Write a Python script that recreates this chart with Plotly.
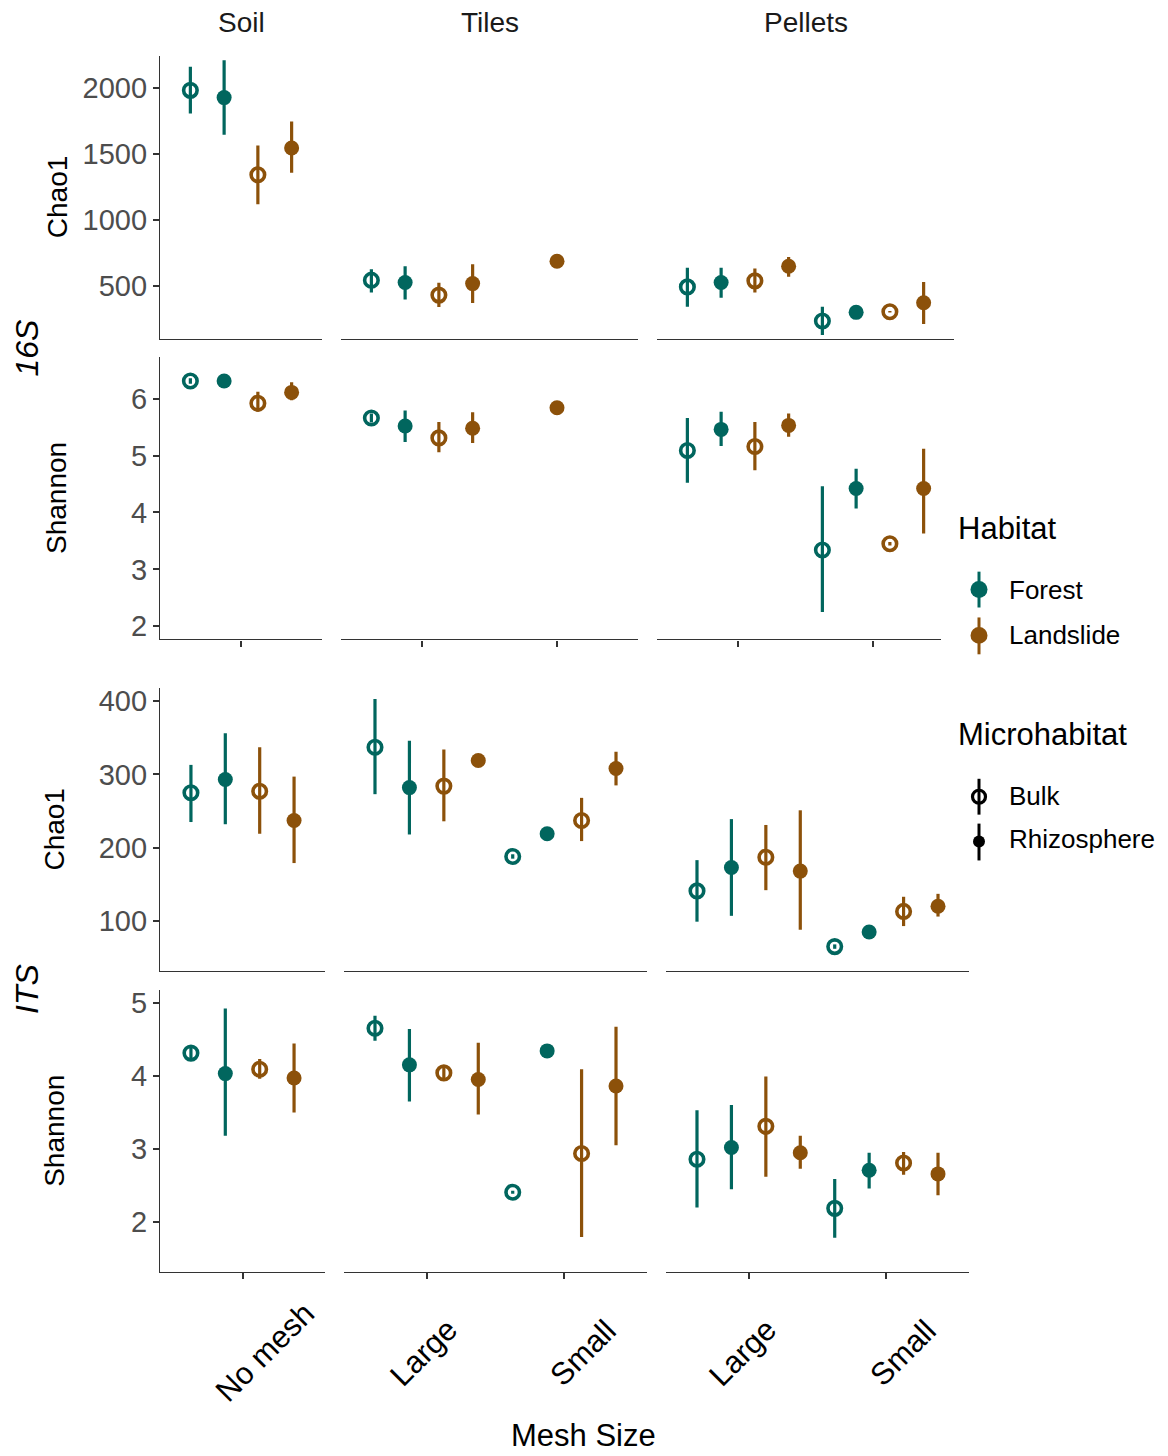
import plotly.graph_objects as go

W, H = 1168, 1456
FONT = "Liberation Sans, Arial, sans-serif"

# ---------------- data ----------------
types = ["Soil", "Tiles", "Pellets"]
type_mesh = {"Soil": ["No mesh"], "Tiles": ["Large", "Small"], "Pellets": ["Large", "Small"]}
cells = [("Soil", "No mesh"), ("Tiles", "Large"), ("Tiles", "Small"),
         ("Pellets", "Large"), ("Pellets", "Small")]
groups = ["FB", "FR", "LB", "LR"]
group_habitat = {"FB": "Forest", "FR": "Forest", "LB": "Landslide", "LR": "Landslide"}
group_micro = {"FB": "Bulk", "FR": "Rhizosphere", "LB": "Bulk", "LR": "Rhizosphere"}
habitat_colors = {"Forest": "#01665E", "Landslide": "#8C510A"}

row_assay = ["16S", "16S", "ITS", "ITS"]
row_metric = ["Chao1", "Shannon", "Chao1", "Shannon"]

# 16S Chao1 (cells order as in `cells`)
chao16_mean = {"FB": [1982, 543, None, 492, 233], "FR": [1927, 525, None, 525, 299],
               "LB": [1342, 430, None, 538, 304], "LR": [1545, 517, 686, 649, 372]}
chao16_lo = {"FB": [1806, 449, None, 341, 128], "FR": [1645, 397, None, 409, 292],
             "LB": [1118, 339, None, 449, 298], "LR": [1357, 369, 680, 568, 211]}
chao16_hi = {"FB": [2161, 626, None, 638, 341], "FR": [2211, 649, None, 638, 306],
             "LB": [1563, 523, None, 631, 310], "LR": [1745, 664, 692, 719, 530]}

# 16S Shannon
shan16_mean = {"FB": [6.31, 5.66, None, 5.09, 3.34], "FR": [6.31, 5.52, None, 5.46, 4.42],
               "LB": [5.92, 5.31, None, 5.16, 3.45], "LR": [6.11, 5.48, 5.84, 5.53, 4.42]}
shan16_lo = {"FB": [6.26, 5.58, None, 4.52, 2.25], "FR": [6.28, 5.24, None, 5.17, 4.07],
             "LB": [5.77, 5.06, None, 4.74, 3.42], "LR": [5.97, 5.22, 5.81, 5.33, 3.63]}
shan16_hi = {"FB": [6.36, 5.74, None, 5.66, 4.46], "FR": [6.34, 5.79, None, 5.77, 4.77],
             "LB": [6.12, 5.59, None, 5.59, 3.48], "LR": [6.29, 5.76, 5.87, 5.74, 5.12]}

# ITS Chao1
chaoITS_mean = {"FB": [275, 337, 188, 141, 65], "FR": [293, 282, 219, 173, 85],
                "LB": [277, 284, 237, 187, 113], "LR": [237, 319, 308, 168, 120]}
chaoITS_lo = {"FB": [235, 273, 185, 99, 62], "FR": [232, 218, 216, 107, 83],
              "LB": [219, 236, 209, 142, 93], "LR": [179, 316, 285, 88, 106]}
chaoITS_hi = {"FB": [313, 403, 191, 183, 68], "FR": [356, 346, 222, 239, 87],
              "LB": [337, 334, 268, 231, 133], "LR": [297, 322, 331, 251, 137]}

# ITS Shannon
shanITS_mean = {"FB": [4.31, 4.65, 2.41, 2.86, 2.19], "FR": [4.03, 4.15, 4.34, 3.02, 2.71],
                "LB": [4.09, 4.04, 2.94, 3.31, 2.81], "LR": [3.97, 3.95, 3.86, 2.95, 2.66]}
shanITS_lo = {"FB": [4.24, 4.48, 2.39, 2.20, 1.79], "FR": [3.18, 3.65, 4.32, 2.45, 2.46],
              "LB": [3.96, 3.93, 1.80, 2.62, 2.65], "LR": [3.50, 3.47, 3.05, 2.73, 2.37]}
shanITS_hi = {"FB": [4.38, 4.82, 2.43, 3.53, 2.59], "FR": [4.92, 4.64, 4.36, 3.60, 2.95],
              "LB": [4.23, 4.14, 4.09, 3.99, 2.96], "LR": [4.44, 4.45, 4.67, 3.18, 2.95]}

row_data = [(chao16_mean, chao16_lo, chao16_hi), (shan16_mean, shan16_lo, shan16_hi),
            (chaoITS_mean, chaoITS_lo, chaoITS_hi), (shanITS_mean, shanITS_lo, shanITS_hi)]

y_ranges = [[100, 2244], [1.77, 6.74], [31.7, 417.7], [1.324, 5.173]]
y_ticks = [[500, 1000, 1500, 2000], [2, 3, 4, 5, 6], [100, 200, 300, 400], [2, 3, 4, 5]]

# ---------------- layout geometry (pixels) ----------------
row_y = [(53, 337), (355, 639), (688, 972), (991, 1274)]
col_x_16 = [(160, 322), (341, 638), (657, 954)]
col_x_its = [(160, 325), (344, 647), (666, 969)]

AXC = "#333333"


def px(x):
    return x / W


def py(y):
    return 1 - y / H


fig = go.Figure()
layout = dict(width=W, height=H, autosize=False, margin=dict(l=0, r=0, t=0, b=0),
              paper_bgcolor="white", plot_bgcolor="white", showlegend=False,
              font=dict(family=FONT, color="black"))

DODGE = 1.0
for r in range(4):
    means, los, his = row_data[r]
    cols = col_x_16 if r < 2 else col_x_its
    for c, t in enumerate(types):
        k = r * 3 + c + 1
        sfx = "" if k == 1 else str(k)
        meshes = type_mesh[t]
        pos = {g: ([], [], [], []) for g in groups}
        for mi, mesh in enumerate(meshes):
            ci = cells.index((t, mesh))
            present = [g for g in groups if means[g][ci] is not None]
            n = len(present)
            for j, g in enumerate(present):
                off = -DODGE / 2 + (j + 0.5) * DODGE / n
                m = means[g][ci]
                pos[g][0].append(mi + 1 + off)
                pos[g][1].append(m)
                pos[g][2].append(his[g][ci] - m)
                pos[g][3].append(m - los[g][ci])
        for g in groups:
            xs, ys, ep, em = pos[g]
            if not xs:
                continue
            col = habitat_colors[group_habitat[g]]
            bulk = group_micro[g] == "Bulk"
            fig.add_trace(go.Scatter(
                x=xs, y=ys, mode="markers", xaxis="x" + sfx, yaxis="y" + sfx,
                name=f"{group_habitat[g]} {group_micro[g]}",
                error_y=dict(type="data", symmetric=False, array=ep, arrayminus=em,
                             width=0, thickness=3.2, color=col),
                marker=dict(symbol="circle-open" if bulk else "circle",
                            size=13.5 if bulk else 15, color=col,
                            line=dict(width=3.6 if bulk else 0, color=col)),
                hoverinfo="skip"))
        x0, x1 = cols[c]
        y0, y1 = row_y[r]
        n = len(meshes)
        layout["xaxis" + sfx] = dict(
            domain=[px(x0), px(x1)], range=[0.4, n + 0.6], anchor="y" + sfx,
            showline=True, linecolor=AXC, linewidth=1.3, mirror=False,
            ticks="outside" if r in (1, 3) else "", ticklen=6, tickwidth=2, tickcolor=AXC,
            tickvals=list(range(1, n + 1)), showticklabels=False,
            showgrid=False, zeroline=False, fixedrange=True)
        first = c == 0
        layout["yaxis" + sfx] = dict(
            domain=[py(y1), py(y0)], range=y_ranges[r], anchor="x" + sfx,
            showline=first, linecolor=AXC, linewidth=1.3,
            ticks="outside" if first else "", ticklen=6, tickwidth=2, tickcolor=AXC,
            tickvals=y_ticks[r], showticklabels=first,
            tickfont=dict(size=29, color="#4D4D4D", family=FONT),
            showgrid=False, zeroline=False, fixedrange=True)


def note(text, x, y, size, angle=0, color="black", xanchor="center"):
    return dict(text=text, x=px(x), y=py(y), xref="paper", yref="paper", showarrow=False,
                textangle=angle, xanchor=xanchor, yanchor="middle",
                font=dict(size=size, color=color, family=FONT))


annotations = []
# facet strips
for c, t in enumerate(types):
    x0, x1 = col_x_16[c]
    annotations.append(note(t, (x0 + x1) / 2, 20, 28, color="#1A1A1A"))
# y axis titles
ytitle_x = [57, 57, 55, 55]
for r in range(4):
    y0, y1 = row_y[r]
    annotations.append(note(row_metric[r], ytitle_x[r], (y0 + y1) / 2, 28, angle=-90))
# assay labels
annotations.append(note("<i>16S</i>", 27, 347, 32, angle=-90))
annotations.append(note("<i>ITS</i>", 27, 990, 32, angle=-90))
# x tick labels (rotated)
label_shift = {("Soil", "No mesh"): 22, ("Tiles", "Large"): -3, ("Tiles", "Small"): 19,
               ("Pellets", "Large"): -6, ("Pellets", "Small"): 17}
for c, t in enumerate(types):
    k = 9 + c + 1
    for mi, mesh in enumerate(type_mesh[t]):
        annotations.append(dict(text=mesh, x=mi + 1, xref=f"x{k}", y=py(1355), yref="paper",
                                xshift=label_shift[(t, mesh)], showarrow=False, textangle=-45,
                                xanchor="center", yanchor="middle",
                                font=dict(size=31, color="black", family=FONT)))
# x title
annotations.append(note("Mesh Size", 583, 1438, 31))

# legend
for txt, yy in [("Habitat", 528), ("Microhabitat", 735)]:
    annotations.append(note(txt, 956, yy, 31, xanchor="left"))
for txt, yy in [("Forest", 589), ("Landslide", 635), ("Bulk", 796), ("Rhizosphere", 839)]:
    annotations.append(note(txt, 1007, yy, 26, xanchor="left"))

shapes = []
# legend background (covers plot edge like the reference)
shapes.append(dict(type="rect", xref="paper", yref="paper", x0=px(941), x1=1, y0=py(870), y1=py(505),
                   fillcolor="white", line=dict(width=0), layer="above"))


def key(cx, cy, top, bot, color, filled, d):
    shapes.append(dict(type="line", xref="paper", yref="paper", x0=px(cx), x1=px(cx),
                       y0=py(bot), y1=py(top), line=dict(color=color, width=3), layer="above"))
    r = d / 2
    shapes.append(dict(type="circle", xref="paper", yref="paper", x0=px(cx - r), x1=px(cx + r),
                       y0=py(cy + r), y1=py(cy - r),
                       fillcolor=color if filled else "rgba(0,0,0,0)",
                       line=dict(color=color, width=0 if filled else 3.2), layer="above"))


key(979, 589, 571, 607, habitat_colors["Forest"], True, 17)
key(979, 635, 617, 654, habitat_colors["Landslide"], True, 17)
key(979, 797, 779, 815, "black", False, 13)
key(979, 842, 824, 861, "black", True, 12)

layout["annotations"] = annotations
layout["shapes"] = shapes
fig.update_layout(**layout)
fig.write_html("out.html")
